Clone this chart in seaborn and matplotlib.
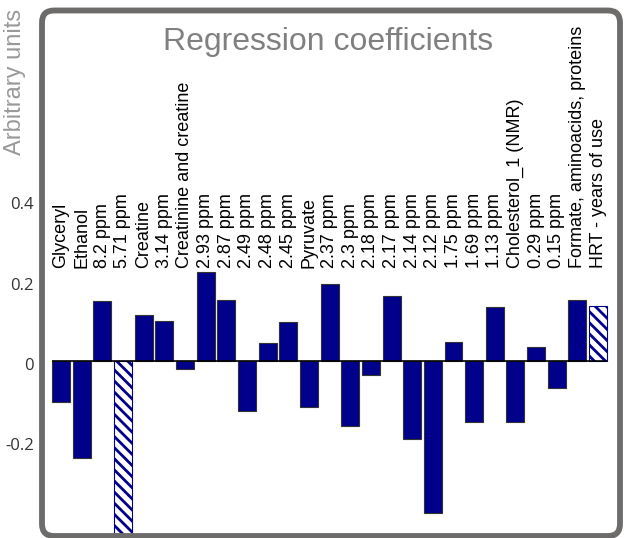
import matplotlib
matplotlib.use("Agg")
import matplotlib.pyplot as plt
import matplotlib.transforms as mtransforms
import seaborn as sns
from matplotlib.patches import FancyBboxPatch

# Data
labels = ["Glyceryl", "Ethanol", "8.2 ppm", "5.71 ppm", "Creatine", "3.14 ppm",
          "Creatinine and creatine", "2.93 ppm", "2.87 ppm", "2.49 ppm", "2.48 ppm",
          "2.45 ppm", "Pyruvate", "2.37 ppm", "2.3 ppm", "2.18 ppm", "2.17 ppm",
          "2.14 ppm", "2.12 ppm", "1.75 ppm", "1.69 ppm", "1.13 ppm",
          "Cholesterol_1 (NMR)", "0.29 ppm", "0.15 ppm",
          "Formate, aminoacids, proteins", "HRT - years of use"]
values = [-0.104, -0.243, 0.148, -0.433, 0.114, 0.100, -0.022, 0.222, 0.152,
          -0.125, 0.045, 0.096, -0.115, 0.192, -0.164, -0.036, 0.162, -0.196,
          -0.381, 0.047, -0.152, 0.133, -0.152, 0.033, -0.067, 0.152, 0.137]
hatched = ["5.71 ppm", "HRT - years of use"]
yticks = [0.4, 0.2, 0, -0.2]
ytick_labels = ["0.4", "0.2", "0", "-0.2"]

navy = "#00008b"
plt.rcParams["hatch.linewidth"] = 2.0

fig = plt.figure(figsize=(6.25, 5.38), dpi=100)
W, H = 625, 538

# main axes, placed in pixel units
x0, x1, y0, y1 = 42, 620, 10, 536
ax = fig.add_axes([x0 / W, 1 - y1 / H, (x1 - x0) / W, (y1 - y0) / H])
ax.set_zorder(1)

bw = 0.87
sns.barplot(x=labels, y=values, color=navy, saturation=1, width=bw,
            edgecolor="#333333", linewidth=0.8, ax=ax)

for lab, bar in zip(labels, ax.patches):
    if lab in hatched:
        bar.set_facecolor("white")
        bar.set_hatch("\\\\\\")
        if hasattr(bar, "set_hatchcolor"):
            bar.set_hatchcolor(navy)
        else:
            bar.set_edgecolor(navy)

ax.hlines(0, -bw / 2, len(labels) - 1 + bw / 2, color="black", lw=1.2, zorder=3)

for i, lab in enumerate(labels):
    ax.text(i, 0.232, lab, rotation=90, ha="center", va="bottom",
            fontsize=13, family="Liberation Sans", color="black")

ax.set_xlim(-0.92, 27.06)
ax.set_ylim(-0.4375, 0.875)
ax.set_xticks([])
ax.set_yticks(yticks)
ax.set_yticklabels(ytick_labels, family="Open Sans", fontsize=12, color="#333333")
ax.tick_params(axis="y", length=0, pad=6)
shift = mtransforms.ScaledTranslation(0, -3 / 100, fig.dpi_scale_trans)
for t in ax.get_yticklabels():
    t.set_transform(t.get_transform() + shift)
ax.set_xlabel("")
ax.set_ylabel("")
for s in ax.spines.values():
    s.set_visible(False)

# rounded frame drawn in pixel coordinates on top
bg = fig.add_axes([0, 0, 1, 1])
bg.set_zorder(2)
bg.patch.set_alpha(0)
bg.set_xlim(0, W)
bg.set_ylim(H, 0)
bg.axis("off")
bg.add_patch(FancyBboxPatch((x0, y0 + 0.5), x1 - x0, y1 - y0 - 0.5,
                            boxstyle="round,pad=0,rounding_size=12",
                            fill=False, edgecolor="#6e6b6b", lw=4.2))

fig.text(328 / W, 1 - 42 / H, "Regression coefficients", ha="center", va="center",
         fontsize=23, family="Liberation Sans", color="#808080")
fig.text(15 / W, 1 - 82 / H, "Arbitrary units", ha="center", va="center",
         rotation=90, fontsize=17, family="Liberation Sans", color="#999999")

fig.savefig("out.png", dpi=100)
